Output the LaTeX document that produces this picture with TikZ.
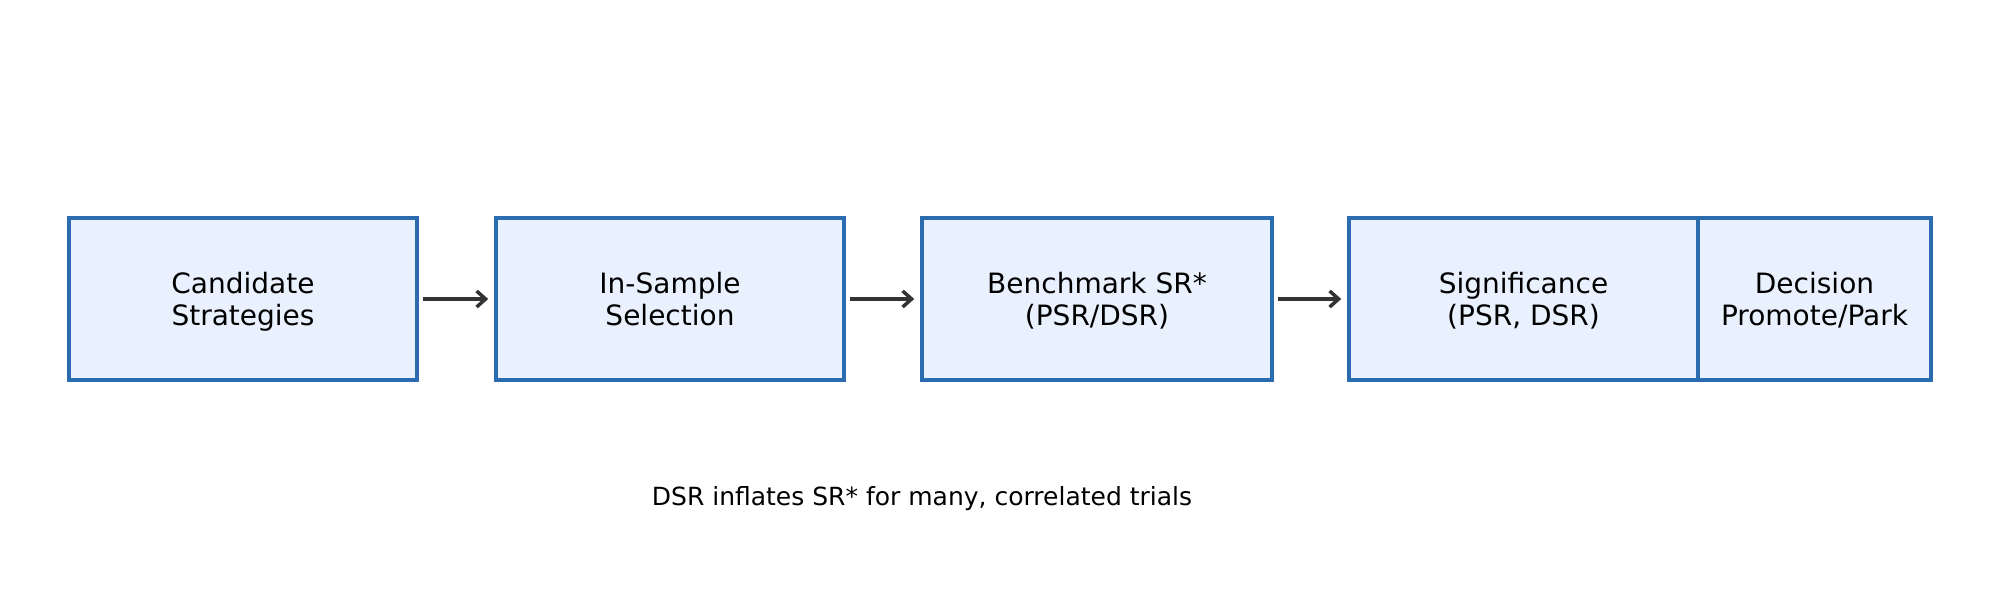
\documentclass[tikz,border=0pt]{standalone}
\usepackage{fontspec}
\setmainfont{DejaVu Sans}
\usetikzlibrary{arrows.meta}
\definecolor{boxfill}{HTML}{E8F1FD}
\definecolor{boxdraw}{HTML}{2B6CB0}
\definecolor{arrowc}{HTML}{333333}
\newcommand{\topstrut}{\rule{0pt}{30.4pt}}
\begin{document}
\begin{tikzpicture}[x=1pt,y=-1pt,
  stagebox/.style={draw=boxdraw,fill=boxfill,line width=3.5pt,minimum height=162pt,inner sep=0pt,align=center,font=\fontsize{28}{32}\selectfont},
  flowarrow/.style={draw=arrowc,line width=3.5pt,-{Straight Barb[length=9pt,width=16pt,line width=3.5pt]}}]
\useasboundingbox (0,0) rectangle (2000,600);
\node[stagebox,minimum width=348pt] (b1) at (243,299) {\topstrut Candidate\\\strut Strategies};
\node[stagebox,minimum width=348pt] (b2) at (670,299) {\topstrut In-Sample\\\strut Selection};
\node[stagebox,minimum width=350pt] (b3) at (1097,299) {\topstrut Benchmark SR*\\\strut (PSR/DSR)};
\node[stagebox,minimum width=349pt] (b4) at (1523.5,299) {\topstrut Significance\\\strut (PSR, DSR)};
\node[stagebox,minimum width=233pt] (b5) at (1814.5,299) {\topstrut Decision\\\strut Promote/Park};
\draw[flowarrow] ([xshift=4pt]b1.east) -- ([xshift=-6pt]b2.west);
\draw[flowarrow] ([xshift=4pt]b2.east) -- ([xshift=-6pt]b3.west);
\draw[flowarrow] ([xshift=4pt]b3.east) -- ([xshift=-6pt]b4.west);
\node[font=\fontsize{25}{30}\selectfont] (cap) at (922,499) {DSR inflates SR* for many, correlated trials};
\end{tikzpicture}
\end{document}
